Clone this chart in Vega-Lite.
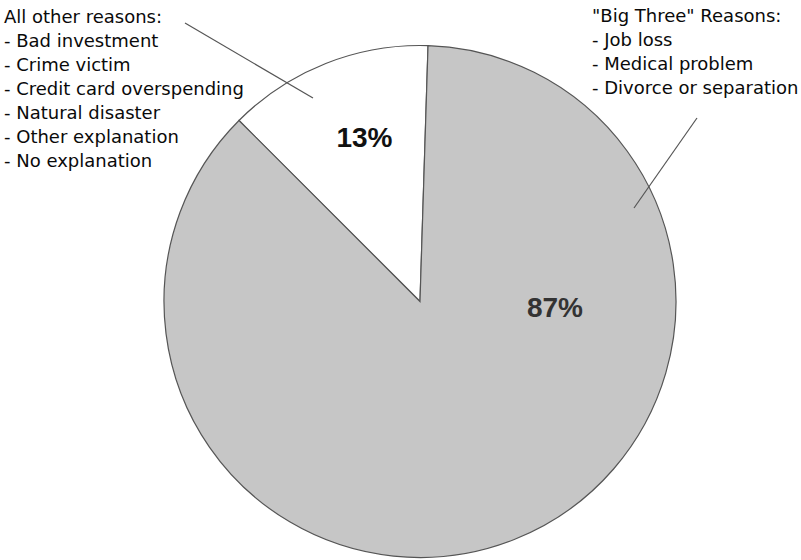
{
  "$schema": "https://vega.github.io/schema/vega-lite/v6.json",
  "autosize": {"type": "fit", "contains": "padding"},
  "width": 801,
  "height": 560,
  "padding": 0,
  "background": "white",
  "config": {"view": {"stroke": null}, "font": "Liberation Sans"},
  "datasets": {
    "shares": [
      {"reason": "All other reasons", "share": 13, "ord": 1, "label": "13%"},
      {"reason": "Big Three reasons", "share": 87, "ord": 2, "label": "87%"}
    ],
    "notes": [
      {"group": "other", "text": "All other reasons:\n- Bad investment\n- Crime victim\n- Credit card overspending\n- Natural disaster\n- Other explanation\n- No explanation"},
      {"group": "big", "text": "\"Big Three\" Reasons:\n- Job loss\n- Medical problem\n- Divorce or separation"}
    ]
  },
  "layer": [
    {
      "data": {"name": "shares"},
      "mark": {"type": "arc", "outerRadius": 256, "stroke": "#555555", "strokeWidth": 1.2},
      "encoding": {
        "x": {"datum": 0, "type": "quantitative", "scale": {"domain": [-1.6406, 1.4883], "nice": false, "zero": false}, "axis": null},
        "y": {"datum": 0, "type": "quantitative", "scale": {"domain": [-1.0098, 1.1777], "nice": false, "zero": false}, "axis": null},
        "theta": {"field": "share", "type": "quantitative", "stack": true, "scale": {"range": [-0.7854, 5.4978]}},
        "order": {"field": "ord", "type": "quantitative"},
        "color": {"field": "reason", "type": "nominal", "scale": {"domain": ["All other reasons", "Big Three reasons"], "range": ["#ffffff", "#c6c6c6"]}, "legend": null}
      }
    },
    {
      "data": {"name": "notes"},
      "transform": [{"filter": "datum.group == 'other'"}],
      "mark": {"type": "text", "align": "left", "baseline": "alphabetic", "font": "DejaVu Sans", "fontSize": 18, "lineHeight": 24, "lineBreak": "\n", "color": "#0a0a0a"},
      "encoding": {
        "x": {"datum": -1.625, "type": "quantitative"},
        "y": {"datum": 1.0879, "type": "quantitative"},
        "text": {"field": "text"}
      }
    },
    {
      "data": {"name": "notes"},
      "transform": [{"filter": "datum.group == 'big'"}],
      "mark": {"type": "text", "align": "left", "baseline": "alphabetic", "font": "DejaVu Sans", "fontSize": 18, "lineHeight": 24, "lineBreak": "\n", "color": "#0a0a0a"},
      "encoding": {
        "x": {"datum": 0.6719, "type": "quantitative"},
        "y": {"datum": 1.0918, "type": "quantitative"},
        "text": {"field": "text"}
      }
    },
    {
      "data": {"values": [{"to": "All other reasons"}]},
      "mark": {"type": "rule", "color": "#555555", "strokeWidth": 1.2},
      "encoding": {
        "x": {"datum": -0.918, "type": "quantitative"},
        "y": {"datum": 1.0879, "type": "quantitative"},
        "x2": {"datum": -0.418},
        "y2": {"datum": 0.7949}
      }
    },
    {
      "data": {"values": [{"to": "Big Three reasons"}]},
      "mark": {"type": "rule", "color": "#555555", "strokeWidth": 1.2},
      "encoding": {
        "x": {"datum": 1.082, "type": "quantitative"},
        "y": {"datum": 0.7168, "type": "quantitative"},
        "x2": {"datum": 0.836},
        "y2": {"datum": 0.3652}
      }
    },
    {
      "data": {"name": "shares"},
      "transform": [{"filter": "datum.ord == 1"}],
      "mark": {"type": "text", "align": "center", "baseline": "alphabetic", "fontSize": 28, "fontWeight": "bold", "color": "#111111"},
      "encoding": {
        "x": {"datum": -0.2168, "type": "quantitative"},
        "y": {"datum": 0.6035, "type": "quantitative"},
        "text": {"field": "label"}
      }
    },
    {
      "data": {"name": "shares"},
      "transform": [{"filter": "datum.ord == 2"}],
      "mark": {"type": "text", "align": "center", "baseline": "alphabetic", "fontSize": 28, "fontWeight": "bold", "color": "#333333"},
      "encoding": {
        "x": {"datum": 0.5273, "type": "quantitative"},
        "y": {"datum": -0.0605, "type": "quantitative"},
        "text": {"field": "label"}
      }
    }
  ]
}
